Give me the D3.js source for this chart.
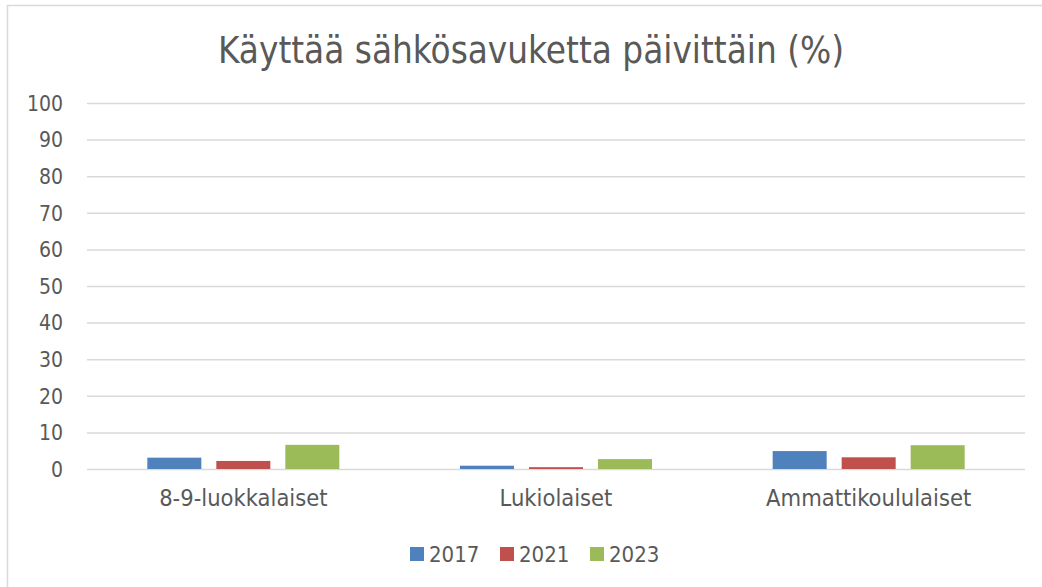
<!DOCTYPE html>
<html>
<head>
<meta charset="utf-8">
<script src="https://cdn.jsdelivr.net/npm/d3@7"></script>
<style>
  html, body { margin: 0; padding: 0; background: #fff; }
  svg text { font-family: "DejaVu Sans Condensed", "DejaVu Sans", sans-serif; fill: #595959; }
</style>
</head>
<body>
<svg id="chart"></svg>
<script>
// data
var categories = ["8-9-luokkalaiset", "Lukiolaiset", "Ammattikoululaiset"];
var years = ["2017", "2021", "2023"];
var values2017 = [3.1, 0.9, 4.9];
var values2021 = [2.2, 0.5, 3.2];
var values2023 = [6.6, 2.7, 6.5];
var yTicks = [0, 10, 20, 30, 40, 50, 60, 70, 80, 90, 100];
var title = "Käyttää sähkösavuketta päivittäin (%)";

var colors = ["#4f81bd", "#c0504d", "#9bbb59"];
var seriesValues = [values2017, values2021, values2023];

var W = 1042, H = 587;
var margin = { left: 87, right: 17, top: 103, bottom: 118 };
var iWidth = W - margin.left - margin.right;
var iHeight = H - margin.top - margin.bottom;

var svg = d3.select("#chart").attr("width", W).attr("height", H);

// рамка
svg.append("rect")
    .attr("x", 7.5).attr("y", 5.5)
    .attr("width", W).attr("height", H)
    .attr("fill", "none")
    .attr("stroke", "#d9d9d9")
    .attr("stroke-width", 1.5);

svg.append("text")
    .attr("x", 531).attr("y", 63)
    .attr("text-anchor", "middle")
    .style("font-size", "36.5px")
    .text(title);

var chart = svg.append("g")
    .attr("transform", `translate(${margin.left}, ${margin.top})`);

// шкала y
var yScale = d3.scaleLinear().domain([0, 100]).range([iHeight, 0]);

var yAxis = chart.append("g")
    .call(d3.axisLeft(yScale).tickValues(yTicks).tickSize(-iWidth).tickPadding(24));
yAxis.select(".domain").remove();
yAxis.selectAll(".tick line").attr("stroke", "#d9d9d9").attr("stroke-width", 1.5);
yAxis.selectAll(".tick text").style("font-size", "21px").attr("dy", "0.35em");

// шкала x
var x0 = d3.scaleBand().domain(categories).range([0, iWidth]).padding(0);
var groupW = 192;
var x1 = d3.scaleBand().domain(years)
    .range([(x0.bandwidth() - groupW) / 2, (x0.bandwidth() + groupW) / 2])
    .paddingInner(15 / 69).paddingOuter(0);

var xAxis = chart.append("g")
    .attr("transform", `translate(0, ${iHeight})`)
    .call(d3.axisBottom(x0).tickSize(0).tickPadding(20));
xAxis.select(".domain").remove();
xAxis.selectAll(".tick text").style("font-size", "23.5px");

// бары
years.forEach(function(yr, si) {
    chart.append("g").selectAll("rect")
        .data(categories)
        .enter()
        .append("rect")
        .attr("x", c => x0(c) + x1(yr))
        .attr("y", (c, i) => yScale(seriesValues[si][i]))
        .attr("width", x1.bandwidth())
        .attr("height", (c, i) => iHeight - yScale(seriesValues[si][i]))
        .attr("fill", colors[si]);
});

// легенда
var legend = svg.append("g").attr("transform", "translate(410, 547)");
var item = legend.selectAll("g").data(years).enter().append("g")
    .attr("transform", (d, i) => `translate(${i * 90}, 0)`);
item.append("rect").attr("width", 14).attr("height", 14).attr("fill", (d, i) => colors[i]);
item.append("text").attr("x", 19).attr("y", 7).attr("dy", "0.36em")
    .style("font-size", "22px").text(d => d);
</script>
</body>
</html>
